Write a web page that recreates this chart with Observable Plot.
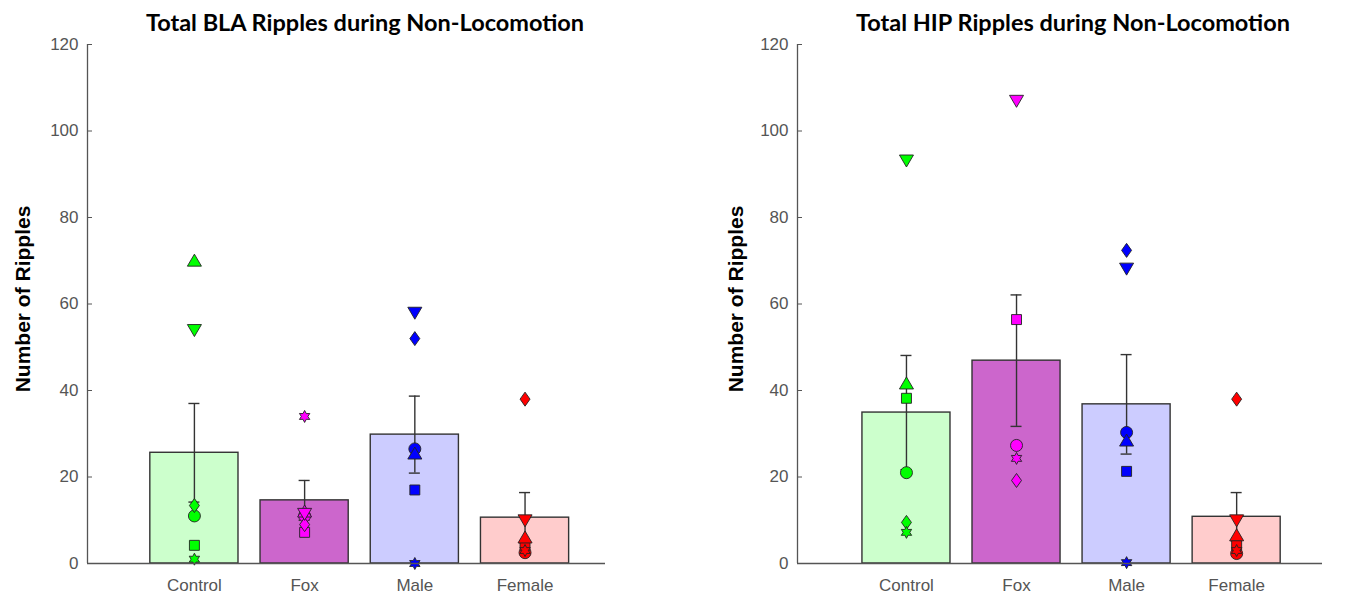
<!DOCTYPE html>
<html><head><meta charset="utf-8">
<script src="https://cdn.jsdelivr.net/npm/d3@7"></script>
<script src="https://cdn.jsdelivr.net/npm/@observablehq/plot@0.6"></script>
<style>
body{margin:0;background:#fff;}
#wrap{position:relative;width:1345px;height:596px;overflow:hidden;background:#fff;}
.panel{position:absolute;top:0;}
.title{position:absolute;font-family:Lato,"Open Sans",sans-serif;font-weight:bold;font-size:23.5px;line-height:24px;color:#000;white-space:nowrap;transform:translateX(-50%);}
.ylab{position:absolute;font-family:"Liberation Sans",Arial,sans-serif;font-weight:bold;font-size:21px;line-height:21px;color:#000;white-space:nowrap;transform:translate(-50%,-50%) rotate(-90deg);}
</style></head>
<body><div id="wrap"></div>
<script>
const groups = ["Control", "Fox", "Male", "Female"];
const yTicks = [0, 20, 40, 60, 80, 100, 120];
const barFill = ["#ccffcc", "#cc66cc", "#ccccff", "#ffcccc"];
const markFill = ["#00ff00", "#ff00ff", "#0000ff", "#ff0000"];

// BLA panel
const blaTitle = "Total BLA Ripples during Non-Locomotion";
const blaMean = [25.6, 14.6, 29.8, 10.6];
const blaSem = [11.4, 4.6, 8.9, 5.8];
const blaCircle = [11, 11, 26.5, 2.5];
const blaSquare = [4.2, 7.2, 17, 4.2];
const blaDiamond = [13.4, 9, 52, 38];
const blaTriUp = [70, 12, 25.4, 6];
const blaTriDown = [54, 11.5, 58, 10];
const blaHexagram = [1, 34, 0, 3];

// HIP panel
const hipTitle = "Total HIP Ripples during Non-Locomotion";
const hipMean = [34.9, 46.9, 36.8, 10.8];
const hipSem = [13.2, 15.2, 11.5, 5.6];
const hipCircle = [21, 27.3, 30.3, 2.3];
const hipSquare = [38.2, 56.4, 21.3, 4.2];
const hipDiamond = [9.5, 19.2, 72.4, 38];
const hipTriUp = [41.6, null, 28.4, 6.5];
const hipTriDown = [93.2, 107, 68.2, 10];
const hipHexagram = [7.2, 24.3, 0.2, 3];

const yLabel = "Number of Ripples";

// custom marker symbols (size = r*r*PI)
const R = s => Math.sqrt(s / Math.PI);
const symCircle = {draw(c, s){ const r = R(s); c.moveTo(r, 0); c.arc(0, 0, r, 0, 2*Math.PI); c.closePath(); }};
const symSquare = {draw(c, s){ const h = R(s)*0.83; c.rect(-h, -h, 2*h, 2*h); }};
const symDiamond = {draw(c, s){ const r = R(s); c.moveTo(0, -1.17*r); c.lineTo(0.83*r, 0); c.lineTo(0, 1.17*r); c.lineTo(-0.83*r, 0); c.closePath(); }};
const symTriUp = {draw(c, s){ const r = R(s); c.moveTo(0, -1.1*r); c.lineTo(1.17*r, 0.9*r); c.lineTo(-1.17*r, 0.9*r); c.closePath(); }};
const symTriDown = {draw(c, s){ const r = R(s); c.moveTo(0, 1.1*r); c.lineTo(1.17*r, -0.9*r); c.lineTo(-1.17*r, -0.9*r); c.closePath(); }};
const symHexagram = {draw(c, s){ const r = R(s); const ro = 1.0*r, ri = 0.55*r;
  for (let k = 0; k < 12; k++) { const a = -Math.PI/2 + k*Math.PI/6; const rr = k % 2 ? ri : ro;
    const x = rr*Math.cos(a), y = rr*Math.sin(a); if (k) c.lineTo(x, y); else c.moveTo(x, y); }
  c.closePath(); }};

function makePanel({means, sems, series, x0, x1, width, marginLeft, marginRight}) {
  const bars = groups.map((g, i) => ({x: i + 1, mean: means[i], sem: sems[i], fill: barFill[i]}));
  const marks = [
    Plot.rectY(bars, {x1: d => d.x - 0.4, x2: d => d.x + 0.4, y1: 0, y2: "mean", fill: "fill", stroke: "#333", strokeWidth: 1.4}),
    Plot.ruleX(bars, {x: "x", y1: d => d.mean - d.sem, y2: d => d.mean + d.sem, stroke: "#333", strokeWidth: 1.4}),
    Plot.ruleY(bars, {y: d => d.mean + d.sem, x1: d => d.x - 0.05, x2: d => d.x + 0.05, stroke: "#333", strokeWidth: 1.4}),
    Plot.ruleY(bars, {y: d => d.mean - d.sem, x1: d => d.x - 0.05, x2: d => d.x + 0.05, stroke: "#333", strokeWidth: 1.4}),
  ];
  for (const [vals, sym] of series) {
    const pts = groups.map((g, i) => ({x: i + 1, y: vals[i], fill: markFill[i]})).filter(d => d.y != null);
    marks.push(Plot.dot(pts, {x: "x", y: "y", symbol: sym, r: 6, fill: "fill", stroke: "#222", strokeWidth: 0.9}));
  }
  marks.push(
    Plot.ruleX([x0], {y1: 0, y2: 120, stroke: "#555", strokeWidth: 1.3}),
    Plot.ruleY([0], {x1: x0, x2: x1, stroke: "#555", strokeWidth: 1.3}),
    Plot.axisY({ticks: yTicks, tickSize: -5, tickPadding: 14, stroke: "#555", fill: "#555", fontSize: 17, fontFamily: "Liberation Sans, Arial, sans-serif", label: null}),
    Plot.axisX({ticks: [1, 2, 3, 4], tickFormat: d => groups[d - 1], tickSize: 0, tickPadding: 15, fill: "#555", fontSize: 17, fontFamily: "Liberation Sans, Arial, sans-serif", label: null})
  );
  return Plot.plot({
    width, height: 596, marginLeft, marginRight, marginTop: 44, marginBottom: 33,
    x: {type: "linear", domain: [x0, x1], axis: null},
    y: {domain: [0, 120], axis: null},
    color: {type: "identity"},
    style: {background: "transparent", overflow: "visible"},
    marks
  });
}

const wrap = document.getElementById("wrap");
function addPanel(left, svg) {
  const d = document.createElement("div"); d.className = "panel"; d.style.left = left + "px"; d.appendChild(svg); wrap.appendChild(d);
}
function addText(cls, text, x, y) {
  const d = document.createElement("div"); d.className = cls; d.textContent = text; d.style.left = x + "px"; d.style.top = y + "px"; wrap.appendChild(d);
}

addPanel(0, makePanel({means: blaMean, sems: blaSem,
  series: [[blaCircle, symCircle], [blaSquare, symSquare], [blaDiamond, symDiamond], [blaTriUp, symTriUp], [blaTriDown, symTriDown], [blaHexagram, symHexagram]],
  x0: 0.03, x1: 4.73, width: 672, marginLeft: 87, marginRight: 67}));
addPanel(672, makePanel({means: hipMean, sems: hipSem,
  series: [[hipCircle, symCircle], [hipSquare, symSquare], [hipDiamond, symDiamond], [hipTriUp, symTriUp], [hipTriDown, symTriDown], [hipHexagram, symHexagram]],
  x0: 0.01, x1: 4.78, width: 673, marginLeft: 125, marginRight: 23}));

addText("title", blaTitle, 365, 10);
addText("title", hipTitle, 1073, 10);
addText("ylab", yLabel, 22, 299);
addText("ylab", yLabel, 735, 299);
</script></body></html>
